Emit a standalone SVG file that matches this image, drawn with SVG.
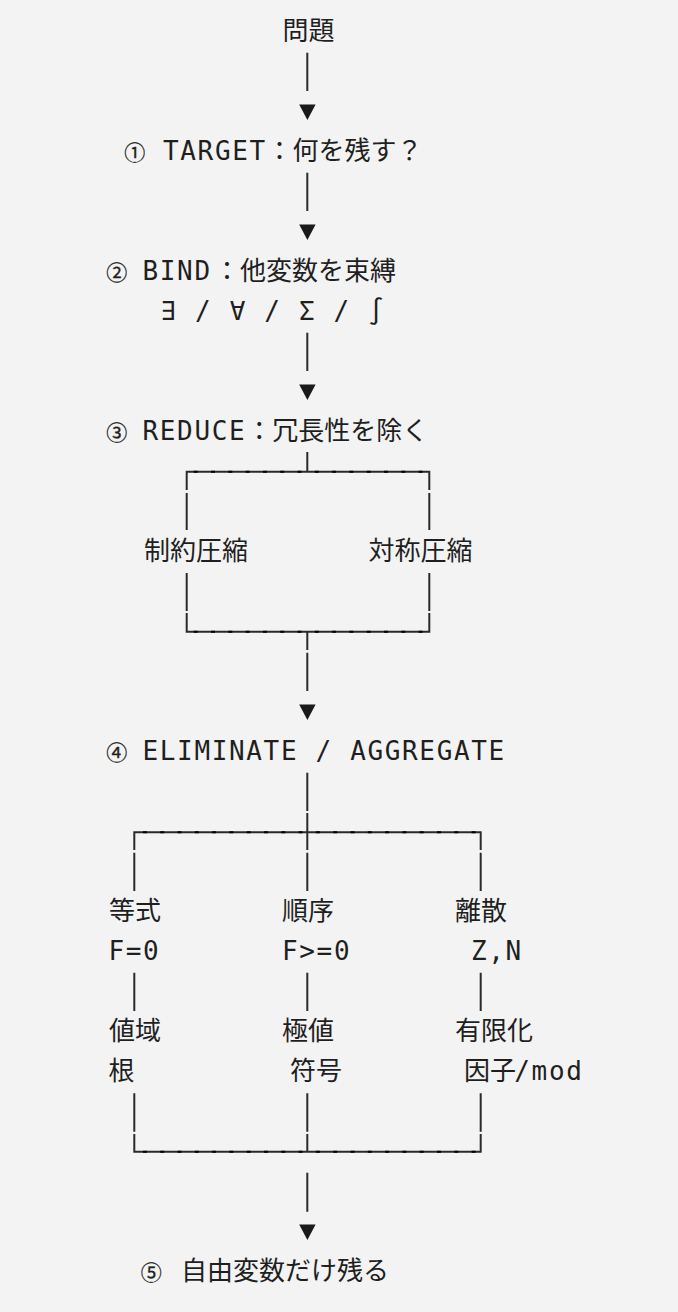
<svg xmlns="http://www.w3.org/2000/svg" width="678" height="1312" viewBox="0 0 678 1312">
<style>
.t{font-family:"DejaVu Sans Mono","Noto Sans CJK JP",monospace;font-size:26px;fill:#1f1f1f}
.m{letter-spacing:1.65px}
.j{font-family:"Noto Sans CJK JP","DejaVu Sans",sans-serif;letter-spacing:0}
.c{font-family:"Noto Sans CJK JP","DejaVu Sans",sans-serif;font-size:21px;text-anchor:middle;fill:#1f1f1f;stroke:#1f1f1f;stroke-width:0.3}
.ln{stroke:#2a2a2a;stroke-width:2;fill:none}
.dash{stroke:#000;stroke-width:2;fill:none;stroke-dasharray:4 13.3}
.ar{fill:#1a1a1a}
</style>
<rect width="678" height="1312" fill="#f3f3f3"/>
<g id="connectors">
<path class="ln" d="M307.3 52.7V91 M307.3 172.7V211 M307.3 332.7V371 M307.3 452V471.7 M307.3 631.7V650 M307.3 652.7V691 M307.3 772.7V811 M307.3 813V850 M307.3 1134V1151.7 M307.3 1172.7V1211.7"/>
<polygon class="ar" points="299.2,104.5 315.6,104.5 307.4,120"/>
<polygon class="ar" points="299.2,224.5 315.6,224.5 307.4,240"/>
<polygon class="ar" points="299.2,384.5 315.6,384.5 307.4,400"/>
<polygon class="ar" points="299.2,704.5 315.6,704.5 307.4,720"/>
<polygon class="ar" points="299.2,1224.5 315.6,1224.5 307.4,1240"/>
<path class="ln" d="M186.7 471.7H429.3 M186.7 470.7V490 M429.3 470.7V490 M186.7 493V530 M429.3 493V530 M186.7 573V611 M429.3 573V611 M186.7 613V632.7 M429.3 613V632.7 M186.7 631.7H429.3"/>
<path class="dash" d="M186.7 471.7H429.3 M186.7 631.7H429.3" stroke-dashoffset="-7"/>
<path class="ln" d="M134.3 832.3H480.7 M134.3 831.3V850 M480.7 831.3V850 M134.3 852.7V891 M307.3 852.7V891 M480.7 852.7V891 M134.3 972.7V1011 M307.3 972.7V1011 M480.7 972.7V1011 M134.3 1093.3V1131.7 M307.3 1093.3V1131.7 M480.7 1093.3V1131.7 M134.3 1134V1152.7 M480.7 1134V1152.7 M134.3 1151.7H480.7"/>
<path class="dash" d="M134.3 832.3H480.7 M134.3 1151.7H480.7" stroke-dashoffset="-8.6"/>
</g>
<g id="problem"><text class="t j" x="282.5" y="40">問題</text></g>
<g id="target">
<text class="c" x="134.7" y="159.8">①</text>
<text class="t" y="159.5"><tspan class="m" x="163">TARGET</tspan><tspan class="j" x="266.5">：何を残す？</tspan></text>
</g>
<g id="bind">
<text class="c" x="116.7" y="279.8">②</text>
<text class="t" y="279.5"><tspan class="m" x="142.5">BIND</tspan><tspan class="j" x="214">：他変数を束縛</tspan></text>
<text class="t m" x="160.5" y="319.5">∃ / ∀ / Σ / ∫</text>
</g>
<g id="reduce">
<text class="c" x="116.7" y="439.8">③</text>
<text class="t" y="439.5"><tspan class="m" x="142.5">REDUCE</tspan><tspan class="j" x="246.3">：冗長性を除く</tspan></text>
</g>
<g id="constraint-compress"><text class="t j" x="144" y="559.5">制約圧縮</text></g>
<g id="symmetry-compress"><text class="t j" x="368.5" y="559.5">対称圧縮</text></g>
<g id="eliminate">
<text class="c" x="116.7" y="759.8">④</text>
<text class="t m" x="142.5" y="759.5">ELIMINATE / AGGREGATE</text>
</g>
<g id="equality">
<text class="t j" x="109" y="919.5">等式</text>
<text class="t m" x="108.4" y="959.5">F=0</text>
<text class="t j" x="109" y="1039.5">値域</text>
<text class="t j" x="108.5" y="1079.5">根</text>
</g>
<g id="order">
<text class="t j" x="282" y="919.5">順序</text>
<text class="t m" x="282" y="959.5">F&gt;=0</text>
<text class="t j" x="282" y="1039.5">極値</text>
<text class="t j" x="290" y="1079.5">符号</text>
</g>
<g id="discrete">
<text class="t j" x="455" y="919.5">離散</text>
<text class="t m" x="471" y="959.5">Z,N</text>
<text class="t j" x="455" y="1039.5">有限化</text>
<text class="t" y="1079.5"><tspan class="j" x="464">因子</tspan><tspan class="m" x="514.3">/mod</tspan></text>
</g>
<g id="result">
<text class="c" x="151.3" y="1279.8">⑤</text>
<text class="t j" x="181" y="1279.5">自由変数だけ残る</text>
</g>
</svg>
